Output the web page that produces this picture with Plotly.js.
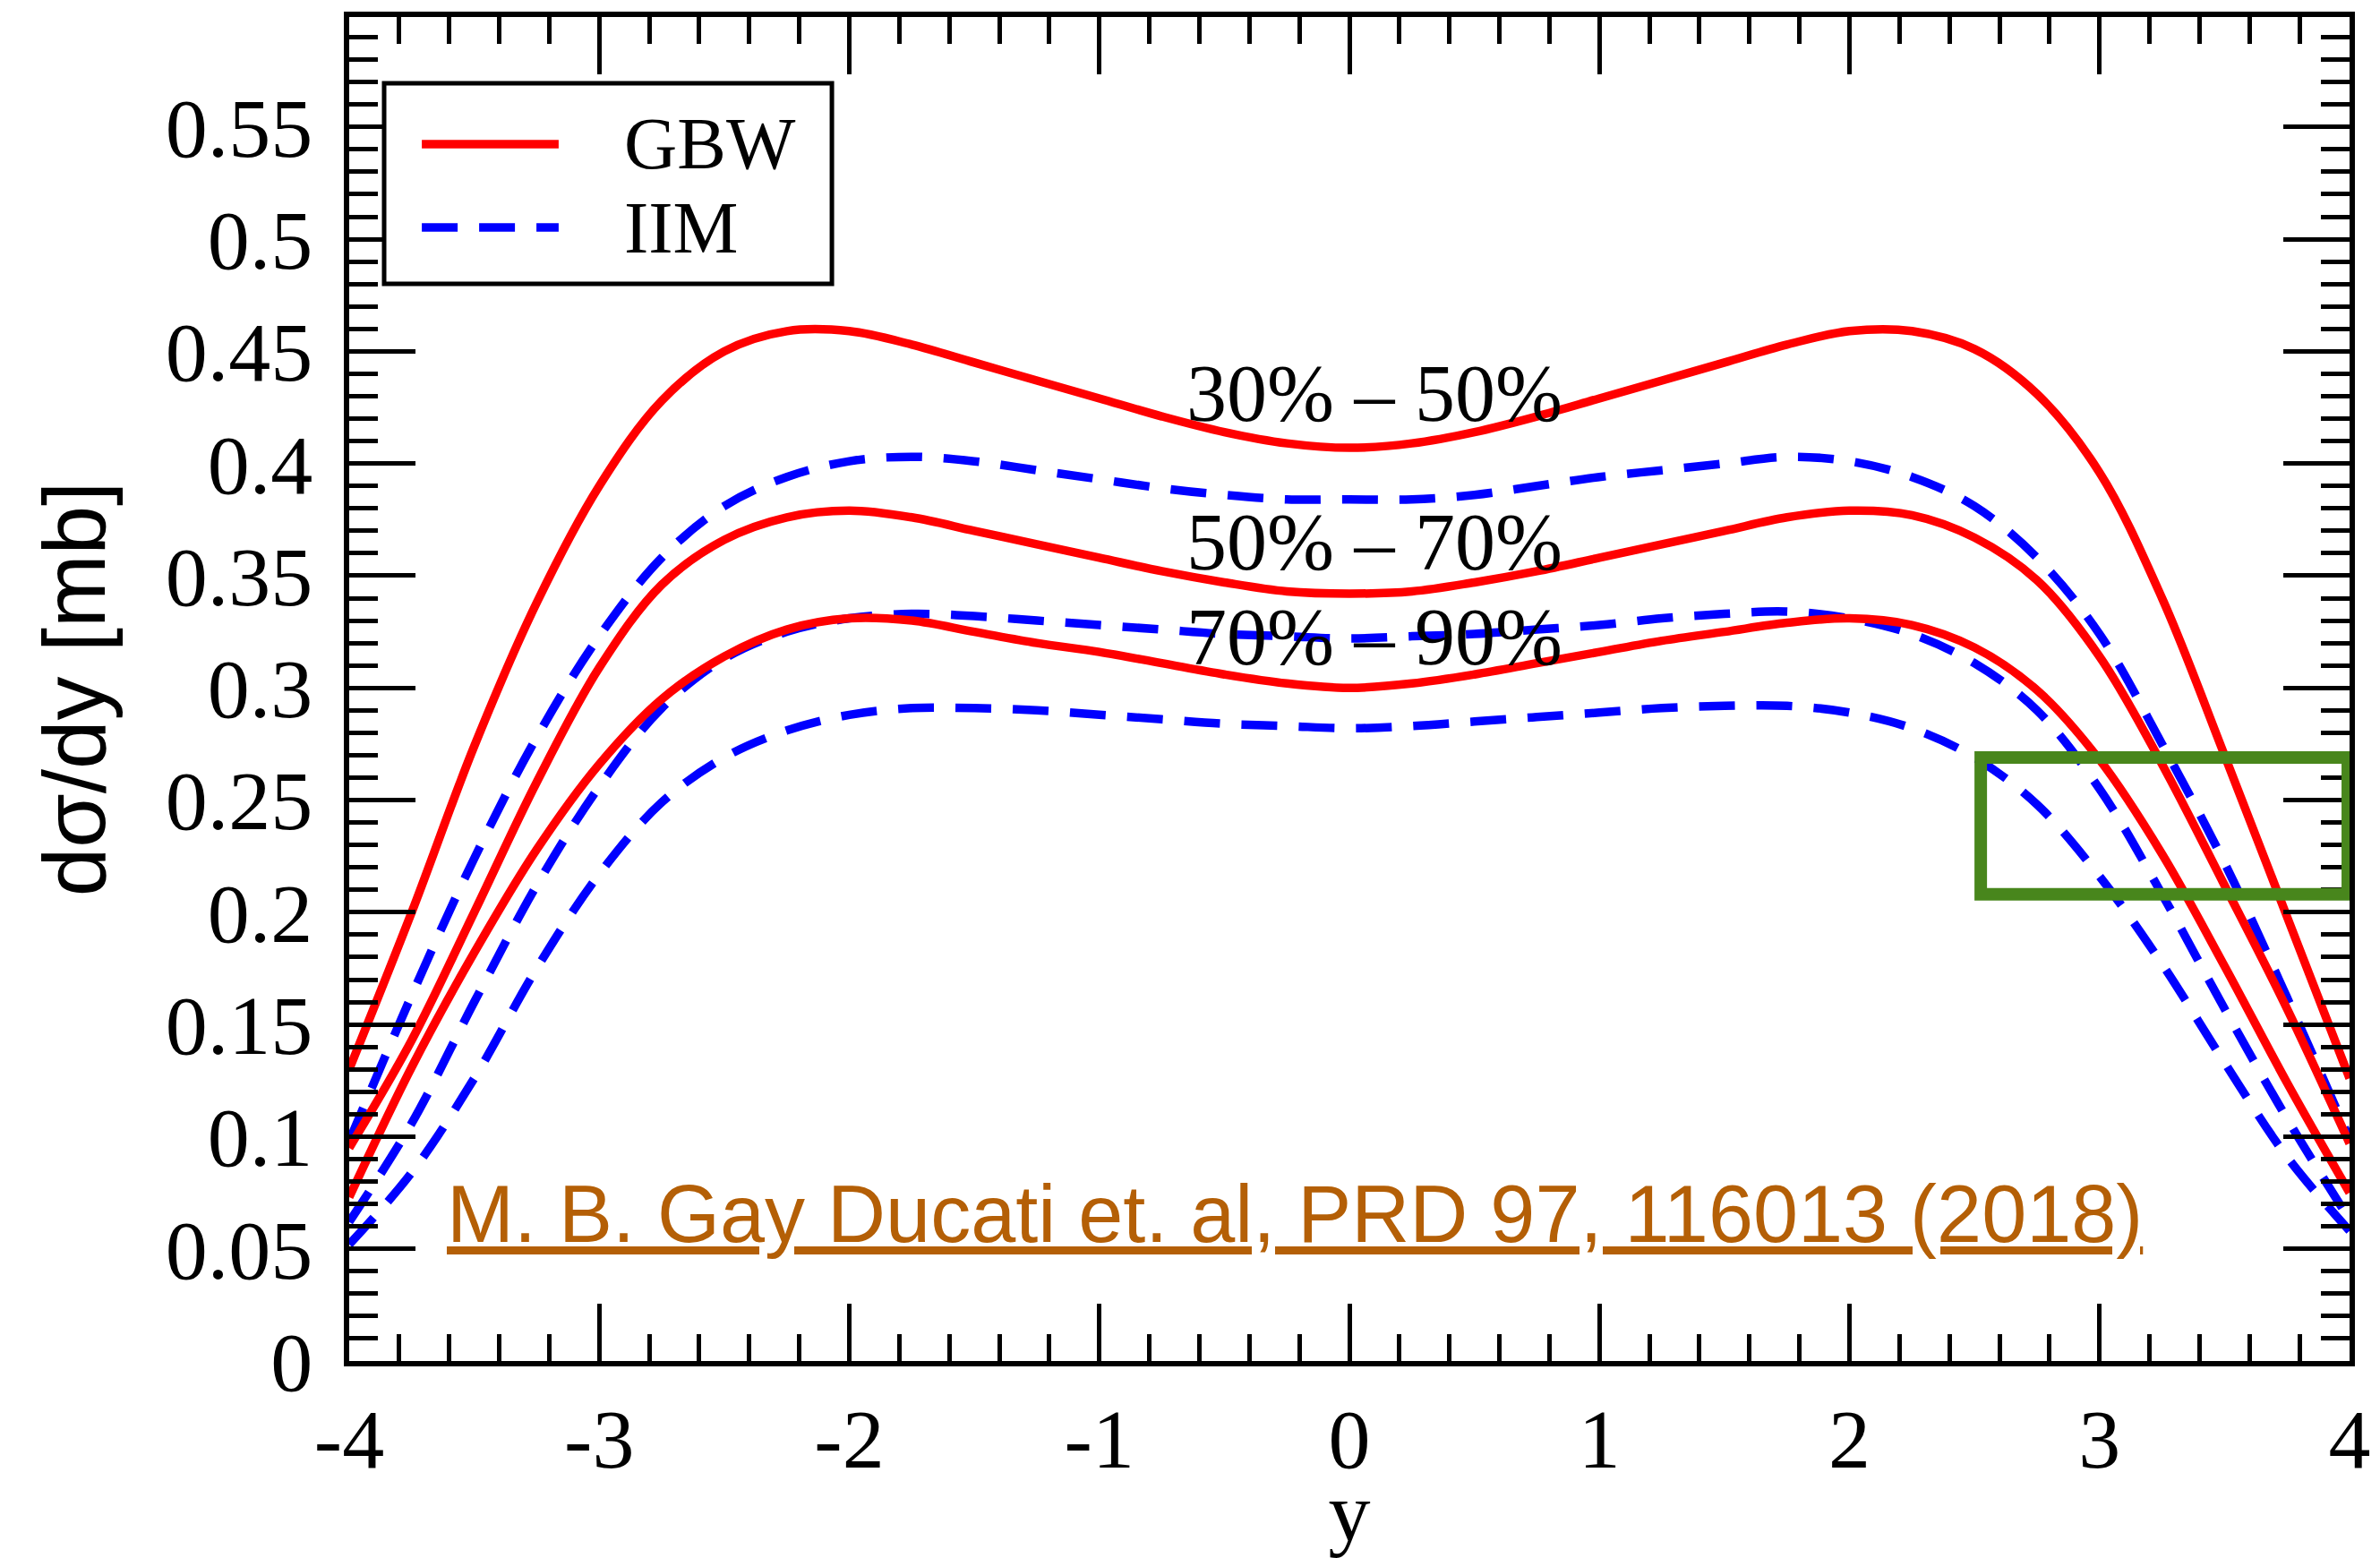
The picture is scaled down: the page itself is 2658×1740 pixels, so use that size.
<!DOCTYPE html>
<html>
<head>
<meta charset="utf-8">
<script src="https://cdn.plot.ly/plotly-3.0.1.min.js"></script>
<style>html,body{margin:0;padding:0;background:#fff;}#chart{width:2658px;height:1740px;}</style>
</head>
<body>
<div id="chart"></div>
<script>
// rapidity grid
const rapidity = [-4,-3.75,-3.5,-3.25,-3,-2.75,-2.5,-2.25,-2,-1.75,-1.5,-1.25,-1,-0.75,-0.5,-0.25,0,
                  0.25,0.5,0.75,1,1.25,1.5,1.75,2,2.25,2.5,2.75,3,3.25,3.5,3.75,4];

// GBW model (solid red)
const gbw_30_50 = [0.130,0.200,0.274,0.338,0.390,0.428,0.450,0.459,0.459,0.453,0.445,0.437,0.429,0.421,0.414,0.409,0.407,
                   0.409,0.414,0.421,0.429,0.437,0.445,0.453,0.459,0.459,0.451,0.431,0.396,0.340,0.270,0.198,0.126];
const gbw_50_70 = [0.095,0.143,0.200,0.258,0.309,0.346,0.366,0.376,0.379,0.376,0.370,0.364,0.358,0.352,0.347,0.343,0.342,
                   0.343,0.347,0.352,0.358,0.364,0.370,0.376,0.379,0.377,0.367,0.348,0.314,0.266,0.212,0.157,0.097];
const gbw_70_90 = [0.073,0.131,0.182,0.228,0.266,0.295,0.314,0.326,0.331,0.330,0.325,0.320,0.316,0.311,0.306,0.302,0.300,
                   0.302,0.306,0.311,0.316,0.321,0.325,0.329,0.331,0.328,0.318,0.299,0.268,0.226,0.176,0.124,0.075];

// IIM model (dashed blue)
const iim_30_50 = [0.098,0.163,0.224,0.278,0.323,0.358,0.381,0.394,0.401,0.403,0.401,0.397,0.393,0.389,0.386,0.384,0.384,
                   0.384,0.386,0.390,0.394,0.397,0.400,0.403,0.401,0.394,0.381,0.358,0.324,0.275,0.222,0.162,0.099];
const iim_50_70 = [0.062,0.106,0.160,0.212,0.256,0.291,0.313,0.325,0.331,0.333,0.332,0.330,0.328,0.326,0.324,0.323,0.322,
                   0.323,0.324,0.326,0.328,0.331,0.333,0.334,0.331,0.324,0.311,0.290,0.255,0.208,0.157,0.108,0.063];
const iim_70_90 = [0.052,0.084,0.126,0.175,0.217,0.249,0.269,0.281,0.288,0.291,0.291,0.290,0.288,0.286,0.284,0.283,0.282,
                   0.283,0.285,0.287,0.289,0.291,0.292,0.292,0.289,0.282,0.269,0.248,0.216,0.177,0.133,0.091,0.058];

// centrality class labels
const centralityLabels = ["30% \u2013 50%", "50% \u2013 70%", "70% \u2013 90%"];
const labelX = [0.1, 0.1, 0.1];
const labelY = [0.431, 0.365, 0.3225];

// legend entries
const legendNames = ["GBW", "IIM"];

// axis ticks
const xTickVals = [-4,-3,-2,-1,0,1,2,3,4];
const xTickText = ["-4","-3","-2","-1","0","1","2","3","4"];
const yTickVals = [0,0.05,0.1,0.15,0.2,0.25,0.3,0.35,0.4,0.45,0.5,0.55];
const yTickText = ["0","0.05","0.1","0.15","0.2","0.25","0.3","0.35","0.4","0.45","0.5","0.55"];

const sourceText = "M. B. Gay Ducati et. al, PRD 97, 116013 (2018)";

const RED = '#ff0000', BLUE = '#0000ff';
const DASH = '40px,24px';
const redLine = {color: RED, width: 9.5, shape: 'spline', smoothing: 1};
const blueLine = {color: BLUE, width: 9.5, dash: DASH, shape: 'spline', smoothing: 1};

function tr(y, name, line) {
  return {x: rapidity, y: y, type: 'scatter', mode: 'lines', name: name, legendgroup: name,
          showlegend: false, line: line, hoverinfo: 'skip'};
}

const data = [
  tr(gbw_30_50, legendNames[0], redLine),
  tr(iim_30_50, legendNames[1], blueLine),
  tr(gbw_50_70, legendNames[0], redLine),
  tr(iim_50_70, legendNames[1], blueLine),
  tr(gbw_70_90, legendNames[0], redLine),
  tr(iim_70_90, legendNames[1], blueLine)
];

const serif = 'Liberation Serif, Times New Roman, serif';
const sans = 'Liberation Sans, Arial, sans-serif';

const annotations = centralityLabels.map((t, i) => ({
  x: labelX[i], y: labelY[i], xref: 'x', yref: 'y', text: t, showarrow: false,
  xanchor: 'center', yanchor: 'middle', font: {family: serif, size: 90, color: '#000'}
}));
annotations.push({
  x: -3.617, y: 0.0656, xref: 'x', yref: 'y', xanchor: 'left', yanchor: 'middle', showarrow: false,
  text: '<span style="text-decoration:underline">' + sourceText + '</span>',
  font: {family: sans, size: 90, color: '#b45f06'}
});
// legend text (paper coordinates inside the plot area)
const legRowY = [0.9054, 0.8434];
legendNames.forEach((n, i) => annotations.push({
  x: 0.1365, y: legRowY[i], xref: 'paper', yref: 'paper', xanchor: 'left', yanchor: 'middle',
  showarrow: false, text: n, font: {family: serif, size: 82, color: '#000'}
}));

const shapes = [
  // legend frame
  {type: 'rect', xref: 'paper', yref: 'paper', x0: 0.01746, x1: 0.2413, y0: 0.8015, y1: 0.9507,
   line: {color: '#000', width: 5}, fillcolor: '#fff', layer: 'above'},
  // legend samples
  {type: 'line', xref: 'paper', yref: 'paper', x0: 0.0363, x1: 0.1047, y0: legRowY[0], y1: legRowY[0],
   line: {color: RED, width: 9.5}, layer: 'above'},
  {type: 'line', xref: 'paper', yref: 'paper', x0: 0.0363, x1: 0.1047, y0: legRowY[1], y1: legRowY[1],
   line: {color: BLUE, width: 9.5, dash: DASH}, layer: 'above'},
  // highlight box
  {type: 'rect', xref: 'x', yref: 'y', x0: 2.525, x1: 3.993, y0: 0.208, y1: 0.269,
   line: {color: '#48861c', width: 14}, fillcolor: 'rgba(0,0,0,0)', layer: 'above'}
];

const layout = {
  width: 2658, height: 1740,
  margin: {l: 390, r: 34, t: 19, b: 220, pad: 0},
  paper_bgcolor: '#fff', plot_bgcolor: '#fff',
  showlegend: false,
  xaxis: {
    range: [-4, 4], tickvals: xTickVals, ticktext: xTickText,
    ticks: 'inside', ticklen: 64, tickwidth: 5, tickcolor: '#000',
    minor: {dtick: 0.2, tick0: -4, ticks: 'inside', ticklen: 30, tickwidth: 5, tickcolor: '#000', showgrid: false},
    showline: true, linewidth: 6, linecolor: '#000', mirror: 'allticks',
    showgrid: false, zeroline: false,
    tickfont: {family: serif, size: 94, color: '#000'},
    title: {text: 'y', font: {family: serif, size: 94, color: '#000'}, standoff: 10}
  },
  yaxis: {
    range: [0, 0.599], tickvals: yTickVals, ticktext: yTickText,
    ticks: 'inside', ticklen: 74, tickwidth: 5, tickcolor: '#000',
    minor: {dtick: 0.01, tick0: 0, ticks: 'inside', ticklen: 32, tickwidth: 5, tickcolor: '#000', showgrid: false},
    showline: true, linewidth: 6, linecolor: '#000', mirror: 'allticks',
    showgrid: false, zeroline: false, ticklabelstandoff: 16,
    tickfont: {family: serif, size: 94, color: '#000'},
    title: {text: 'd\u03c3/dy [mb]', font: {family: sans, size: 98, color: '#000'}, standoff: 36}
  },
  annotations: annotations,
  shapes: shapes
};

Plotly.newPlot('chart', data, layout, {staticPlot: true, displayModeBar: false});
</script>
</body>
</html>
